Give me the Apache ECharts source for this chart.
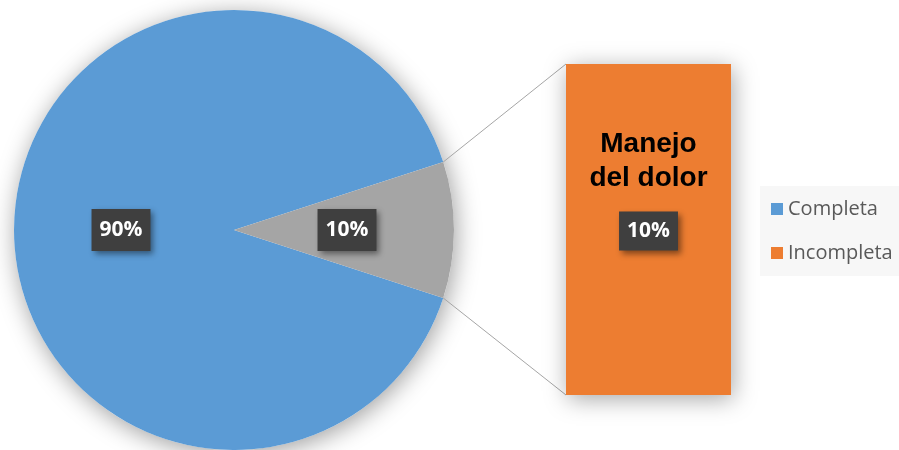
<!DOCTYPE html>
<html>
<head>
<meta charset="utf-8">
<script src="https://cdn.jsdelivr.net/npm/echarts@6/dist/echarts.min.js"></script>
<style>
  html, body { margin: 0; padding: 0; background: #ffffff; }
  #chart { width: 899px; height: 450px; }
</style>
</head>
<body>
<div id="chart"></div>
<script>
// Legend categories
const categories = ['Completa', 'Incompleta'];
// Main pie: complete share and the combined "other" slice that is broken out into the bar
const pieNames = ['Completa', 'Otro'];
const pieValues = [90, 10];
// Secondary stacked bar that details the "other" slice
const barCategories = ['Manejo del dolor'];
const barValues = [10];

const BLUE = '#5B9BD5';
const GRAY = '#A5A5A5';
const ORANGE = '#ED7D31';

const PIE_CENTER = [234, 230];
const PIE_R = 220;

const total = pieValues.reduce((a, b) => a + b, 0);
const otherHalfAngle = pieValues[1] / total * 180;   // half of the "other" slice, in degrees

const labelBox = {
  color: '#ffffff',
  fontFamily: 'Open Sans',
  fontWeight: 'bold',
  fontSize: 21,
  lineHeight: 24,
  backgroundColor: '#3f3f3f',
  padding: [9, 8, 9, 8],
  shadowColor: 'rgba(0,0,0,0.45)',
  shadowBlur: 6,
  shadowOffsetX: 3,
  shadowOffsetY: 3
};

const chart = echarts.init(document.getElementById('chart'), null, { renderer: 'canvas' });

chart.setOption({
  backgroundColor: '#ffffff',
  animation: false,
  legend: {
    data: categories,
    orient: 'vertical',
    left: 760,
    top: 186,
    padding: [13, 30, 13, 11],
    backgroundColor: '#f7f7f7',
    icon: 'rect',
    itemWidth: 12,
    itemHeight: 12,
    itemGap: 24,
    selectedMode: false,
    textStyle: { fontFamily: 'Open Sans', fontSize: 20, color: '#595959' }
  },
  grid: { left: 566, top: 64, width: 165, height: 331 },
  xAxis: { type: 'category', data: barCategories, show: false },
  yAxis: { type: 'value', min: 0, max: barValues[0], show: false },
  graphic: [{
    // soft drop shadow underneath the pie disc
    type: 'circle',
    z: 0,
    silent: true,
    shape: { cx: PIE_CENTER[0], cy: PIE_CENTER[1], r: PIE_R },
    style: {
      fill: '#ffffff',
      shadowColor: 'rgba(0,0,0,0.38)',
      shadowBlur: 24,
      shadowOffsetX: 2,
      shadowOffsetY: 4
    }
  }],
  series: [
    {
      type: 'pie',
      name: 'Estado',
      center: PIE_CENTER,
      radius: PIE_R,
      startAngle: -otherHalfAngle,
      clockwise: true,
      z: 3,
      label: Object.assign({
        show: true,
        position: 'inside',
        formatter: '{c}%'
      }, labelBox),
      labelLine: { show: false },
      emphasis: { disabled: true },
      data: pieNames.map((n, i) => ({
        name: n,
        value: pieValues[i],
        itemStyle: { color: i === 0 ? BLUE : GRAY }
      }))
    },
    {
      type: 'bar',
      name: categories[1],
      data: barValues,
      barWidth: '100%',
      itemStyle: {
        color: ORANGE,
        shadowColor: 'rgba(0,0,0,0.35)',
        shadowBlur: 22,
        shadowOffsetX: 2,
        shadowOffsetY: 4
      },
      emphasis: { disabled: true },
      label: {
        show: true,
        position: 'insideTop',
        distance: 63,
        formatter: p => '{n|' + p.name.replace(' ', '}\n{n|') + '}\n{s| }\n{v|' + p.value + '%}',
        rich: {
          n: {
            align: 'center',
            fontFamily: 'Liberation Sans',
            fontWeight: 'bold',
            fontSize: 28,
            lineHeight: 34,
            color: '#000000'
          },
          s: { align: 'center', fontSize: 1, lineHeight: 24 },
          v: Object.assign({ align: 'center' }, labelBox)
        }
      }
    }
  ]
});

// Connector lines from the edges of the "other" slice to the corners of the bar
const barLayout = chart.getModel().getSeriesByIndex(1).getData().getItemLayout(0);
const barLeft = Math.min(barLayout.x, barLayout.x + barLayout.width);
const barTop = Math.min(barLayout.y, barLayout.y + barLayout.height);
const barBottom = Math.max(barLayout.y, barLayout.y + barLayout.height);
const a = otherHalfAngle * Math.PI / 180;
const upper = [PIE_CENTER[0] + PIE_R * Math.cos(a), PIE_CENTER[1] - PIE_R * Math.sin(a)];
const lower = [PIE_CENTER[0] + PIE_R * Math.cos(a), PIE_CENTER[1] + PIE_R * Math.sin(a)];

chart.setOption({
  graphic: [
    {},
    {
      type: 'line', z: 1, silent: true,
      shape: { x1: upper[0], y1: upper[1], x2: barLeft, y2: barTop },
      style: { stroke: '#a6a6a6', lineWidth: 1 }
    },
    {
      type: 'line', z: 1, silent: true,
      shape: { x1: lower[0], y1: lower[1], x2: barLeft, y2: barBottom },
      style: { stroke: '#a6a6a6', lineWidth: 1 }
    }
  ]
});
</script>
</body>
</html>
